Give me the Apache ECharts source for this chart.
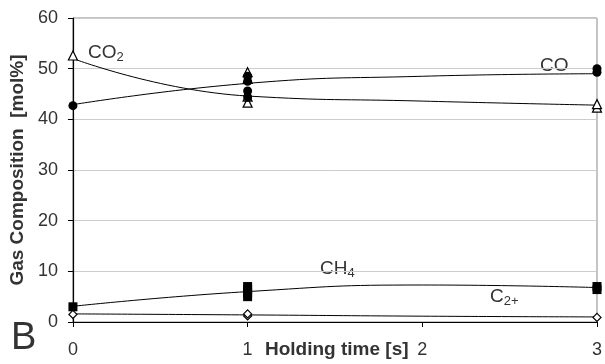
<!DOCTYPE html>
<html><head><meta charset="utf-8">
<script src="https://cdn.jsdelivr.net/npm/echarts@6/dist/echarts.min.js"></script>
<style>html,body{margin:0;padding:0;background:#fff}#c{width:605px;height:364px}</style>
</head><body><div id="c"></div>
<script>
// Measured points: [holding time s, mol%]
var coPoints  = [[0,42.7],[1,44.4],[1,45.6],[1,47.5],[1,48.5],[3,49.3],[3,50.0]];
var co2Points = [[0,52.6],[1,43.3],[1,44.5],[1,48.0],[1,49.3],[3,42.3],[3,43.0]];
var ch4Points = [[0,3.0],[1,5.0],[1,5.7],[1,6.4],[1,7.0],[3,6.4],[3,7.0]];
var c2Points  = [[0,1.5],[1,1.2],[1,1.6],[3,0.9]];
// Trend curves
var trendX   = [0,1,2,3];
var coTrend  = [42.9,47.1,48.5,49.0];
var co2Trend = [52.0,44.6,43.6,42.8];
var ch4Trend = [3.1,6.0,7.3,6.8];
var c2Trend  = [1.6,1.4,1.15,1.0];
var xTicks = [0,1,2,3];

function pairs(ys){return trendX.map(function(x,i){return [x,ys[i]];});}
var font = '"Liberation Sans", Arial, sans-serif';
var chart = echarts.init(document.getElementById('c'));
function trend(ys){return {type:'line',data:pairs(ys),smooth:0.5,symbol:'none',lineStyle:{color:'#000',width:1},z:2,silent:true};}
function pts(d,sym,filled,size,z){return {type:'scatter',data:d,symbol:sym,symbolSize:size,
  itemStyle:{color:filled?'#000':'#fff',borderColor:'#000',borderWidth:filled?0:1.2,opacity:1},z:z};}
function sub(main,s){return {text:'{a|'+main+'}{s|'+s+'}',rich:{a:{fontSize:19,fontFamily:font,fill:'#333'},s:{fontSize:13,fontFamily:font,fill:'#333',padding:[10,0,0,0]}}};}
chart.setOption({
  animation:false,
  grid:{left:72,right:5,top:18,bottom:42,show:true,borderColor:'#888',borderWidth:1},
  xAxis:{type:'value',min:0,max:3,interval:1,
    axisLine:{onZero:false,lineStyle:{color:'#000',width:1.2}},
    axisTick:{show:true,length:5,inside:false,lineStyle:{color:'#000'}},
    axisLabel:{margin:19,fontSize:18,color:'#333',fontFamily:font,
      formatter:function(v){return xTicks.indexOf(v)>=0?String(v):'';}},
    splitLine:{show:false}},
  yAxis:{type:'value',min:0,max:60,interval:10,
    name:'Gas Composition  [mol%]',nameLocation:'middle',nameGap:45,
    nameTextStyle:{fontSize:19,fontWeight:'bold',color:'#333',fontFamily:font},
    axisLine:{show:true,lineStyle:{color:'#000',width:1.2}},
    axisTick:{show:true,length:5,lineStyle:{color:'#000'}},
    axisLabel:{margin:15,fontSize:18,color:'#333',fontFamily:font},
    splitLine:{show:true,lineStyle:{color:'#ccc',width:1}}},
  series:[
    trend(coTrend),trend(co2Trend),trend(ch4Trend),trend(c2Trend),
    pts(co2Points,'triangle',false,9,3),
    pts(coPoints,'circle',true,9,4),
    pts(ch4Points,'rect',true,9,3),
    pts(c2Points,'diamond',false,8,3)
  ],
  graphic:[
    {type:'text',left:88,top:43,style:sub('CO','2')},
    {type:'text',left:540,top:56,style:{text:'CO',fontSize:19,fontFamily:font,fill:'#333'}},
    {type:'text',left:320,top:259,style:sub('CH','4')},
    {type:'text',left:490,top:287,style:sub('C','2+')},
    {type:'text',left:265,top:340,style:{text:'Holding time [s]',fontSize:19,fontWeight:'bold',fontFamily:font,fill:'#333'}},
    {type:'text',left:11,top:320,style:{text:'B',fontSize:38,fontFamily:font,fill:'#333'}}
  ]
});
</script></body></html>
